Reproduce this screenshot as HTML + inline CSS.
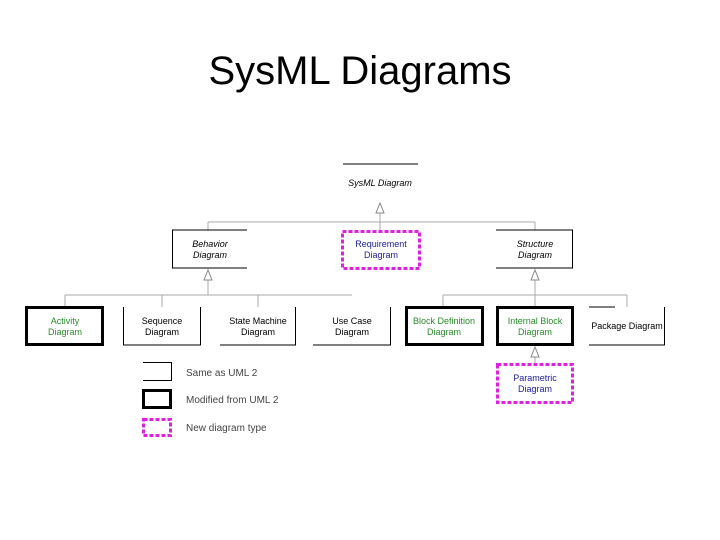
<!DOCTYPE html>
<html><head><meta charset="utf-8"><style>
html,body{margin:0;padding:0;background:#fff;width:720px;height:540px;overflow:hidden}
svg{display:block}
text{font-family:"Liberation Sans",sans-serif}
</style></head><body>
<svg width="720" height="540" viewBox="0 0 720 540">
<text x="360" y="84" font-size="40" text-anchor="middle" fill="#000">SysML Diagrams</text>

<g stroke="#aaa" stroke-width="1" fill="none">
<line x1="208" y1="222" x2="535" y2="222"/>
<line x1="208" y1="222" x2="208" y2="230"/>
<line x1="535" y1="222" x2="535" y2="230"/>
<line x1="380" y1="213" x2="380" y2="230"/>
<line x1="65" y1="295" x2="352" y2="295"/>
<line x1="65" y1="295" x2="65" y2="307"/>
<line x1="162" y1="295" x2="162" y2="307"/>
<line x1="258" y1="295" x2="258" y2="307"/>
<line x1="208" y1="280" x2="208" y2="295"/>
<line x1="443" y1="295" x2="627" y2="295"/>
<line x1="443" y1="295" x2="443" y2="307"/>
<line x1="627" y1="295" x2="627" y2="307"/>
<line x1="535" y1="280" x2="535" y2="307"/>
<line x1="535" y1="357" x2="535" y2="363"/>
</g>
<g stroke="#888" stroke-width="1" fill="#fff">
<polygon points="380,203 376,213 384,213"/>
<polygon points="208,270 204,280 212,280"/>
<polygon points="535,270 531,280 539,280"/>
<polygon points="535,347 531,357 539,357"/>
</g>

<line x1="343" y1="164" x2="418" y2="164" stroke="#000" stroke-width="1"/>
<text x="380" y="186" font-size="9" font-style="italic" text-anchor="middle">SysML Diagram</text>

<g stroke="#000" stroke-width="1" fill="none">
<polyline points="247,230 172.5,230 172.5,268 247,268"/>
<polyline points="496,230 572.5,230 572.5,268 496,268"/>
<polyline points="123.5,307 123.5,345 200.5,345 200.5,307"/>
<polyline points="220,345 295.5,345 295.5,307"/>
<polyline points="313,345 390.5,345 390.5,307"/>
<polyline points="589,307 615,307 M589,345 665,345"/>
<line x1="589" y1="345" x2="665" y2="345"/>
<line x1="664.5" y1="307" x2="664.5" y2="345"/>
<polyline points="143,362.5 171.5,362.5 171.5,380.5 143,380.5"/>
</g>
<g stroke="#000" stroke-width="3" fill="none">
<rect x="26.5" y="307.5" width="76" height="37"/>
<rect x="406.5" y="307.5" width="76" height="37"/>
<rect x="497.5" y="307.5" width="75" height="37"/>
<rect x="143.5" y="390.5" width="27" height="17"/>
</g>
<g stroke="#e020e0" stroke-width="3" stroke-dasharray="4,2" fill="none">
<rect x="342.5" y="231.5" width="77" height="37"/>
<rect x="497.5" y="364.5" width="75" height="38"/>
<rect x="143.5" y="419.5" width="27" height="16"/>
</g>

<g font-size="9" text-anchor="middle">
<text x="210" y="247" font-style="italic">Behavior</text>
<text x="210" y="258" font-style="italic">Diagram</text>
<text x="535" y="247" font-style="italic">Structure</text>
<text x="535" y="258" font-style="italic">Diagram</text>
<text x="381" y="247" fill="#2020a0">Requirement</text>
<text x="381" y="258" fill="#2020a0">Diagram</text>
<text x="65" y="324" fill="#2a8a2a">Activity</text>
<text x="65" y="335" fill="#2a8a2a">Diagram</text>
<text x="162" y="324">Sequence</text>
<text x="162" y="335">Diagram</text>
<text x="258" y="324">State Machine</text>
<text x="258" y="335">Diagram</text>
<text x="352" y="324">Use Case</text>
<text x="352" y="335">Diagram</text>
<text x="444" y="324" fill="#2a8a2a">Block Definition</text>
<text x="444" y="335" fill="#2a8a2a">Diagram</text>
<text x="535" y="324" fill="#2a8a2a">Internal Block</text>
<text x="535" y="335" fill="#2a8a2a">Diagram</text>
<text x="627" y="329">Package Diagram</text>
<text x="535" y="381" fill="#2020a0">Parametric</text>
<text x="535" y="392" fill="#2020a0">Diagram</text>
</g>
<g font-size="10" fill="#444">
<text x="186" y="376">Same as UML 2</text>
<text x="186" y="403">Modified from UML 2</text>
<text x="186" y="431">New diagram type</text>
</g>
</svg>
</body></html>
